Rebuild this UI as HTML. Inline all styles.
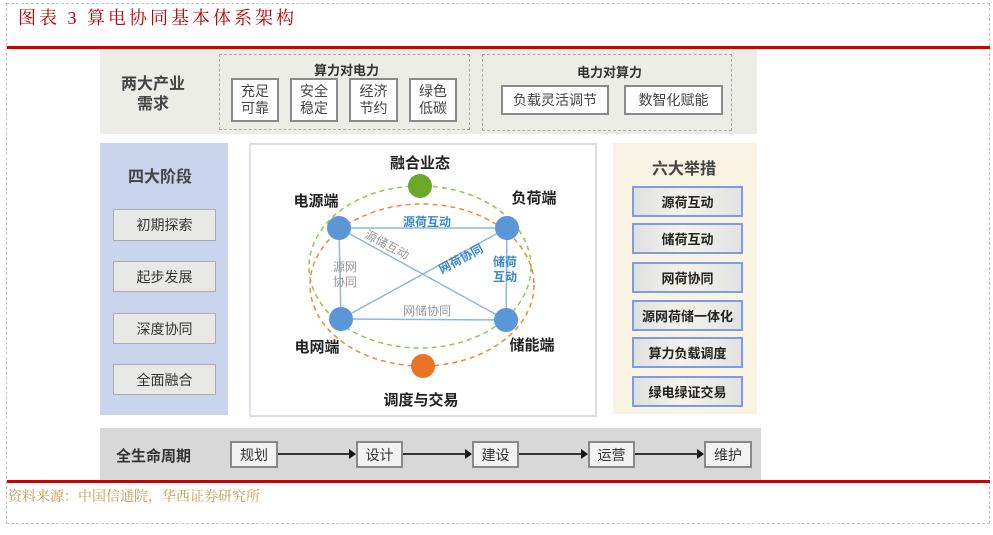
<!DOCTYPE html>
<html><head><meta charset="utf-8">
<style>
body{margin:0;width:993px;height:535px;background:#fff;position:relative;overflow:hidden;font-family:"Liberation Sans","Noto Sans CJK SC",sans-serif;}
.a{position:absolute;box-sizing:border-box;}
.t{position:absolute;white-space:nowrap;}
.bx{position:absolute;box-sizing:border-box;background:#fff;border:2px solid #8a8a8a;display:flex;align-items:center;justify-content:center;text-align:center;color:#444;font-size:14px;line-height:17px;}
.sb{position:absolute;box-sizing:border-box;background:#e8e8e6;border:1px solid #aaa;display:flex;align-items:center;justify-content:center;color:#333;font-size:14px;}
.rb{position:absolute;box-sizing:border-box;background:linear-gradient(90deg,#dfe1e1,#f4f2ea 45%,#e2e3e3);border:2px solid #7f9ae8;display:flex;align-items:center;justify-content:center;color:#222;font-size:13px;font-weight:bold;}
.lb{position:absolute;box-sizing:border-box;background:#f2f2f2;border:2px solid #888;display:flex;align-items:center;justify-content:center;color:#333;font-size:14px;}
</style></head><body>
<div class="a" style="left:6px;top:3px;width:984px;height:521px;border:1px dashed #c4c4c4;"></div>
<div class="t" style="left:18px;top:4px;font-family:'Liberation Serif','Noto Serif CJK SC',serif;font-size:18px;color:#c00000;letter-spacing:3px;">图表 3 算电协同基本体系架构</div>
<div class="a" style="left:7px;top:46px;width:983px;height:3px;background:#d00000;"></div>

<div class="a" style="left:100px;top:49px;width:657px;height:85px;background:#ecede7;"></div>
<div class="t" style="left:121px;top:75px;font-size:16px;font-weight:bold;color:#444;line-height:20px;text-align:center;">两大产业<br>需求</div>
<div class="a" style="left:219px;top:54px;width:251px;height:76px;border:1px dashed #aaa;"></div>
<div class="t" style="left:314px;top:60px;font-size:13px;font-weight:bold;color:#333;">算力对电力</div>
<div class="bx" style="left:231px;top:78px;width:48px;height:44px;">充足<br>可靠</div>
<div class="bx" style="left:290px;top:78px;width:48px;height:44px;">安全<br>稳定</div>
<div class="bx" style="left:349px;top:78px;width:49px;height:44px;">经济<br>节约</div>
<div class="bx" style="left:409px;top:78px;width:48px;height:44px;">绿色<br>低碳</div>
<div class="a" style="left:482px;top:54px;width:250px;height:77px;border:1px dashed #aaa;"></div>
<div class="t" style="left:577px;top:62px;font-size:13px;font-weight:bold;color:#333;">电力对算力</div>
<div class="bx" style="left:501px;top:85px;width:108px;height:30px;">负载灵活调节</div>
<div class="bx" style="left:624px;top:85px;width:99px;height:30px;">数智化赋能</div>

<div class="a" style="left:100px;top:143px;width:128px;height:272px;background:#c9d5ec;"></div>
<div class="t" style="left:128px;top:163px;font-size:16px;font-weight:bold;color:#444;">四大阶段</div>
<div class="sb" style="left:113px;top:209px;width:103px;height:32px;">初期探索</div>
<div class="sb" style="left:113px;top:261px;width:103px;height:31px;">起步发展</div>
<div class="sb" style="left:113px;top:313px;width:103px;height:31px;">深度协同</div>
<div class="sb" style="left:113px;top:364px;width:103px;height:31px;">全面融合</div>

<div class="a" style="left:249px;top:143px;width:348px;height:274px;border:2px solid #ddd;background:#fff;"></div>
<svg class="a" style="left:0;top:0;" width="993" height="535">
<ellipse cx="420" cy="267" rx="111" ry="81" fill="none" stroke="#8fc850" stroke-width="1.5" stroke-dasharray="5,4"/>
<ellipse cx="422" cy="285" rx="112" ry="81" fill="none" stroke="#ec8a3c" stroke-width="1.5" stroke-dasharray="5,4"/>
<g stroke="#8fb6e0" stroke-width="1.5">
<line x1="339" y1="228" x2="507" y2="228"/><line x1="339" y1="228" x2="341" y2="319"/>
<line x1="507" y1="228" x2="506" y2="320"/><line x1="341" y1="319" x2="506" y2="320"/>
<line x1="339" y1="228" x2="506" y2="320"/><line x1="507" y1="228" x2="341" y2="319"/>
</g>
<g fill="#5b97d8"><circle cx="339" cy="228" r="12"/><circle cx="507" cy="228" r="12"/><circle cx="341" cy="319" r="12"/><circle cx="506" cy="320" r="12"/></g>
<circle cx="420" cy="186" r="12" fill="#6aa82a"/>
<circle cx="423" cy="366" r="12" fill="#ea7325"/>
<g font-family="Liberation Sans,Noto Sans CJK SC,sans-serif" font-weight="bold" fill="#222" font-size="15">
<text x="420" y="168" text-anchor="middle">融合业态</text>
<text x="316" y="206" text-anchor="middle">电源端</text>
<text x="534" y="203" text-anchor="middle">负荷端</text>
<text x="317" y="352" text-anchor="middle">电网端</text>
<text x="532" y="350" text-anchor="middle">储能端</text>
<text x="421" y="405" text-anchor="middle">调度与交易</text>
</g>
<g font-family="Liberation Sans,Noto Sans CJK SC,sans-serif" font-size="12">
<text x="427" y="226" text-anchor="middle" fill="#3a86d0" font-weight="bold">源荷互动</text>
<text x="461" y="263" text-anchor="middle" fill="#3a86d0" font-weight="bold" transform="rotate(-28 461 259)">网荷协同</text>
<text x="505" y="266" text-anchor="middle" fill="#3a86d0" font-weight="bold">储荷</text>
<text x="505" y="281" text-anchor="middle" fill="#3a86d0" font-weight="bold">互动</text>
<text x="387" y="249" text-anchor="middle" fill="#999" transform="rotate(28 387 245)">源储互动</text>
<text x="345" y="271" text-anchor="middle" fill="#999">源网</text>
<text x="345" y="286" text-anchor="middle" fill="#999">协同</text>
<text x="427" y="315" text-anchor="middle" fill="#999">网储协同</text>
</g>
</svg>

<div class="a" style="left:613px;top:143px;width:144px;height:271px;background:#f8f3e3;"></div>
<div class="t" style="left:652px;top:155px;font-size:16px;font-weight:bold;color:#444;">六大举措</div>
<div class="rb" style="left:632px;top:186px;width:111px;height:31px;">源荷互动</div>
<div class="rb" style="left:632px;top:223px;width:111px;height:31px;">储荷互动</div>
<div class="rb" style="left:632px;top:262px;width:111px;height:31px;">网荷协同</div>
<div class="rb" style="left:632px;top:300px;width:111px;height:31px;">源网荷储一体化</div>
<div class="rb" style="left:632px;top:337px;width:111px;height:31px;">算力负载调度</div>
<div class="rb" style="left:632px;top:376px;width:111px;height:31px;">绿电绿证交易</div>

<div class="a" style="left:100px;top:428px;width:661px;height:53px;background:#d9d8d8;"></div>
<div class="t" style="left:116px;top:445px;font-size:15px;font-weight:bold;color:#333;">全生命周期</div>
<svg class="a" style="left:0;top:0;" width="993" height="535">
<g stroke="#333" stroke-width="2"><line x1="278" y1="454" x2="350" y2="454"/><line x1="403" y1="454" x2="466" y2="454"/><line x1="519" y1="454" x2="582" y2="454"/><line x1="635" y1="454" x2="698" y2="454"/></g>
<g fill="#111"><path d="M349,449 L356,454 L349,459Z"/><path d="M465,449 L472,454 L465,459Z"/><path d="M581,449 L588,454 L581,459Z"/><path d="M697,449 L704,454 L697,459Z"/></g>
</svg>
<div class="lb" style="left:230px;top:441px;width:48px;height:27px;">规划</div>
<div class="lb" style="left:356px;top:441px;width:47px;height:27px;">设计</div>
<div class="lb" style="left:472px;top:441px;width:47px;height:27px;">建设</div>
<div class="lb" style="left:588px;top:441px;width:47px;height:27px;">运营</div>
<div class="lb" style="left:704px;top:441px;width:48px;height:27px;">维护</div>

<div class="a" style="left:7px;top:480px;width:983px;height:3px;background:#d00000;"></div>
<div class="t" style="left:8px;top:486px;font-family:'Liberation Serif','Noto Serif CJK SC',serif;font-size:14px;color:#c89a50;">资料来源：中国信通院，华西证券研究所</div>
</body></html>
